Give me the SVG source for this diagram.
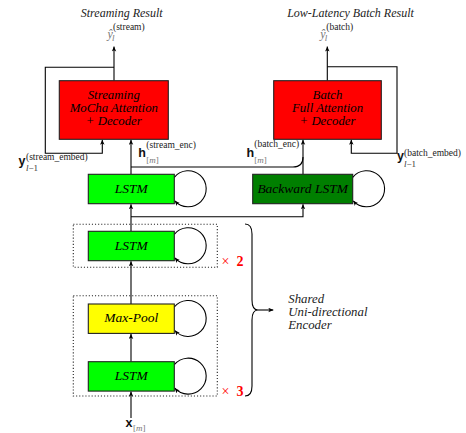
<svg xmlns="http://www.w3.org/2000/svg" width="466" height="433" viewBox="0 0 466 433">
<defs>
<marker id="ah" viewBox="0 0 10 10" refX="10" refY="5" markerWidth="5" markerHeight="5" markerUnits="userSpaceOnUse" orient="auto">
<path d="M0,0.5 L10,5 L0,9.5 L2.5,5 z" fill="#000"/>
</marker>
<style>
.t{font-family:"Liberation Serif","Times New Roman",serif;font-style:italic;font-size:12px;fill:#222}
.bt{font-family:"Liberation Serif","Times New Roman",serif;font-style:italic;font-size:13.5px;fill:#000}
.dt{font-family:"Liberation Serif","Times New Roman",serif;font-style:italic;font-size:12.8px;fill:#000}
.side{font-family:"Liberation Serif","Times New Roman",serif;font-style:italic;font-size:12.8px;fill:#222}
.bx{stroke:#222;stroke-width:1.1}
.dot{fill:none;stroke:#222;stroke-width:1.1;stroke-dasharray:1.1 2}
.c{fill:none;stroke:#000;stroke-width:1.1}
.a{marker-end:url(#ah)}
.mb{font-family:"Liberation Sans",Arial,sans-serif;font-weight:bold;font-size:12.5px;fill:#111}
.sup{font-family:"Liberation Serif","Times New Roman",serif;font-size:9.5px;fill:#222}
.sub{font-family:"Liberation Serif","Times New Roman",serif;font-size:9px;fill:#333}
.gr{fill:#777}
.it{font-style:italic}
.red{font-family:"Liberation Serif","Times New Roman",serif;font-size:14px;fill:#ff0000}
</style>
</defs>
<rect width="466" height="433" fill="#fff"/>

<g id="titles">
<text class="t" x="121.7" y="16.7" text-anchor="middle">Streaming Result</text>
<text class="t" x="350.5" y="16.7" text-anchor="middle">Low-Latency Batch Result</text>
</g>

<g id="outputs">
<text x="107.5" y="37.5" style="font-family:'Liberation Serif',serif;font-style:italic;font-size:12px;fill:#777">ŷ</text>
<text class="sub gr it" x="112" y="41">l</text>
<text class="sup" x="113" y="30">(stream)</text>
<text x="320.3" y="37.5" style="font-family:'Liberation Serif',serif;font-style:italic;font-size:12px;fill:#777">ŷ</text>
<text class="sub gr it" x="324.8" y="41">l</text>
<text class="sup" x="326.3" y="30">(batch)</text>
</g>

<g id="connectors">
<path class="c a" d="M114,80.7 V46.5"/>
<path class="c a" d="M114,67.3 H45.3 V153.3 H102.3 V139.8"/>
<path class="c a" d="M327.3,80.7 V46.5"/>
<path class="c a" d="M327.3,66.7 H397 V153.3 H351.3 V139.8"/>
<path class="c a" d="M131,174.3 V139.8"/>
<path class="c" d="M131,167 H293 Q303,167 303,157"/>
<path class="c a" d="M303,174.3 V139.8"/>
<path class="c a" d="M131,231.3 V204.2"/>
<path class="c a" d="M131,216.7 H303 V204.2"/>
<path class="c a" d="M131,304 V261.2"/>
<path class="c a" d="M131,361.7 V333.9"/>
<path class="c a" d="M131,418 V391.6"/>
<path class="c a" d="M174.3,177.3 A18,18 0 1 1 174.8,200.8"/>
<path class="c a" d="M174.3,234.3 A18,18 0 1 1 174.8,257.8"/>
<path class="c a" d="M174.3,307 A18,18 0 1 1 174.8,330.5"/>
<path class="c a" d="M174.3,364.7 A18,18 0 1 1 174.8,388.2"/>
<path class="c a" d="M352.7,177.3 A18,18 0 1 1 353.2,200.8"/>
<path class="c" d="M245,224 Q252,224 252,234 L252,300 Q252,310 258,310 Q252,310 252,320 L252,386 Q252,396 245,396"/>
<path class="c a" d="M258,310 H273.3"/>
</g>

<g id="labels">
<text class="mb" x="138.3" y="157">h</text>
<text class="sup" x="146.3" y="147.5">(stream_enc)</text>
<text class="sub gr" x="146.3" y="162.5">[<tspan class="it">m</tspan>]</text>
<text class="mb" x="246.5" y="157">h</text>
<text class="sup" x="254.3" y="147">(batch_enc)</text>
<text class="sub gr" x="254.3" y="162.5">[<tspan class="it">m</tspan>]</text>
<text class="mb" x="18.5" y="165">y</text>
<text class="sup" x="26" y="160">(stream_embed)</text>
<text class="sub" x="26" y="171"><tspan class="it">l</tspan>−1</text>
<text class="mb" x="397" y="160">y</text>
<text class="sup" x="404" y="155.5">(batch_embed)</text>
<text class="sub" x="404" y="166.8"><tspan class="it">l</tspan>−1</text>
<text class="mb" x="125.5" y="427">x</text>
<text class="sub gr" x="133" y="430.5">[<tspan class="it">m</tspan>]</text>
</g>

<g id="stream-decoder">
<rect class="bx" x="59.3" y="80.7" width="109" height="58.6" fill="#ff0000"/>
<text class="dt" x="113.8" y="99.2" text-anchor="middle">Streaming</text>
<text class="dt" x="113.8" y="112.3" text-anchor="middle">MoCha Attention</text>
<text class="dt" x="113.8" y="125.4" text-anchor="middle">+ Decoder</text>
</g>

<g id="batch-decoder">
<rect class="bx" x="273.7" y="80.7" width="107.6" height="58.6" fill="#ff0000"/>
<text class="dt" x="327.5" y="99.2" text-anchor="middle">Batch</text>
<text class="dt" x="327.5" y="112.3" text-anchor="middle">Full Attention</text>
<text class="dt" x="327.5" y="125.4" text-anchor="middle">+ Decoder</text>
</g>

<g id="lstm-top">
<rect class="bx" x="88.3" y="174.3" width="86" height="29.4" fill="#00ff00"/>
<text class="bt" x="131.3" y="192.8" text-anchor="middle">LSTM</text>
</g>

<g id="backward-lstm">
<rect class="bx" x="252.7" y="174.3" width="100" height="29.4" fill="#007f00"/>
<text class="bt" x="302.7" y="192.8" text-anchor="middle">Backward LSTM</text>
</g>

<g id="block-x2">
<rect class="dot" x="73.3" y="224.3" width="144" height="43"/>
<rect class="bx" x="88.3" y="231.3" width="86" height="29.4" fill="#00ff00"/>
<text class="bt" x="131.3" y="249.8" text-anchor="middle">LSTM</text>
<text class="red" y="265.7"><tspan x="221.5">×</tspan><tspan x="236.5" font-weight="bold">2</tspan></text>
</g>

<g id="block-x3">
<rect class="dot" x="73.3" y="295.7" width="144" height="100.3"/>
<rect class="bx" x="88.3" y="304" width="86" height="29.4" fill="#ffff00"/>
<text class="bt" x="131.3" y="322.2" text-anchor="middle">Max-Pool</text>
<rect class="bx" x="88.3" y="361.7" width="86" height="29.4" fill="#00ff00"/>
<text class="bt" x="131.3" y="380.2" text-anchor="middle">LSTM</text>
<text class="red" y="395.7"><tspan x="221.5">×</tspan><tspan x="236.5" font-weight="bold">3</tspan></text>
</g>

<g id="encoder-label">
<text class="side" x="288.3" y="302.5">Shared</text>
<text class="side" x="288.3" y="315.6">Uni-directional</text>
<text class="side" x="288.3" y="328.7">Encoder</text>
</g>
</svg>
